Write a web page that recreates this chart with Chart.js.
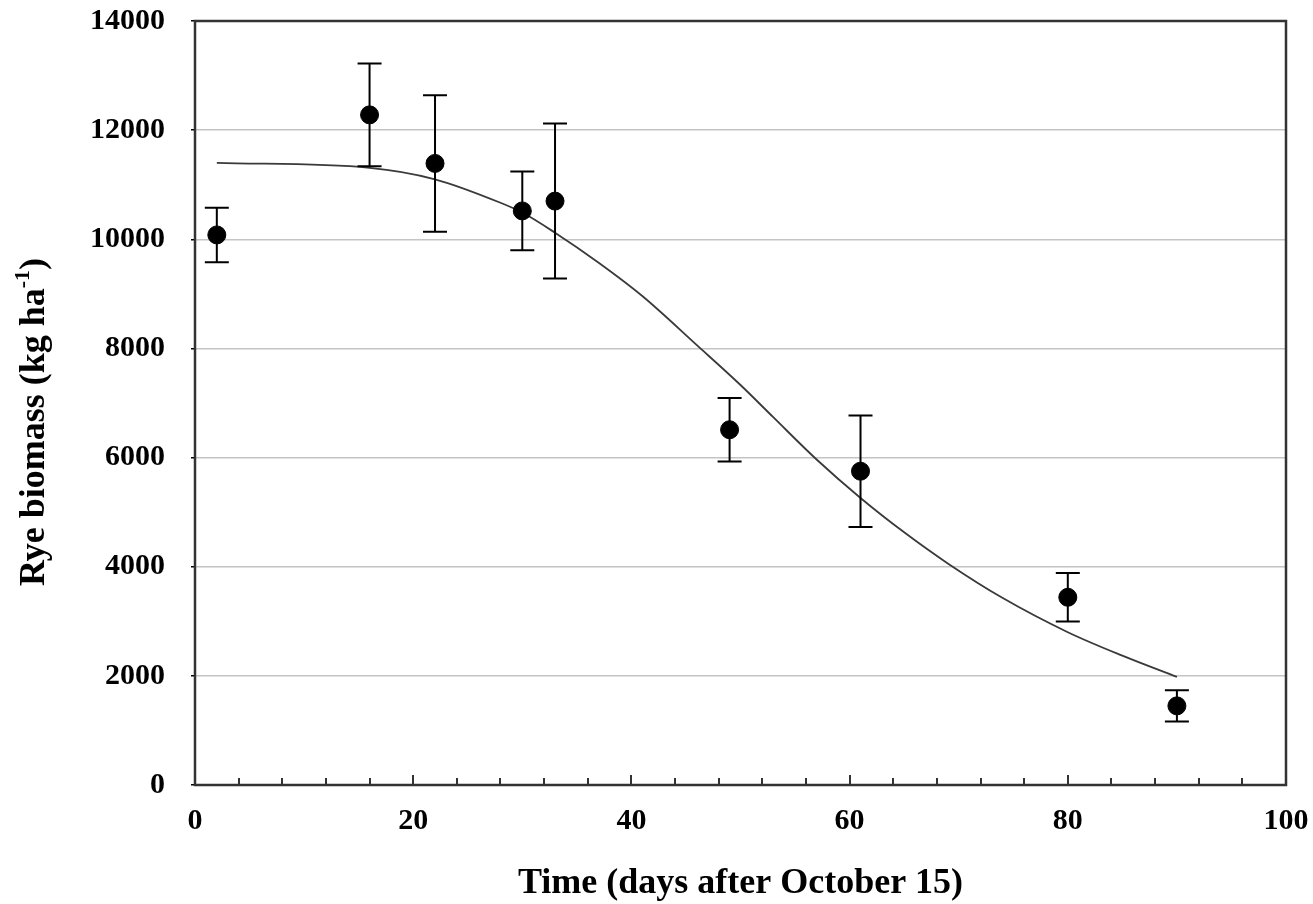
<!DOCTYPE html>
<html>
<head>
<meta charset="utf-8">
<title>Rye biomass over time</title>
<script src="https://cdn.jsdelivr.net/npm/chart.js@4.4.1/dist/chart.umd.min.js"></script>
<style>
    html, body { margin: 0; padding: 0; background: #fff; }
    #wrap { width: 1313px; height: 904px; position: relative; }
</style>
</head>
<body>
<div id="wrap"><canvas id="ryeChart"></canvas></div>
<script>
// observed samples (days after Oct 15), mean biomass and error bar half-width
const days = [2, 16, 22, 30, 33, 49, 61, 80, 90];
const biomass = [10080, 12280, 11390, 10520, 10700, 6510, 5750, 3440, 1450];
const biomassErr = [500, 940, 1250, 720, 1420, 580, 1020, 445, 285];

// fitted curve
const fitDays = [2, 16, 22, 28, 30, 33, 37, 41, 46, 50, 53, 57, 61, 65, 69, 74, 80, 85, 90];
const fitBiomass = [11400, 11310, 11100, 10670, 10490, 10120, 9570, 8960, 8060, 7330, 6740, 5960, 5260, 4630, 4060, 3430, 2800, 2370, 1980];

const xLabels = [0, 20, 40, 60, 80, 100];
const yTicks = [0, 2000, 4000, 6000, 8000, 10000, 12000, 14000];

const SERIF = '"Liberation Serif", "Times New Roman", serif';

/** error bars for the first dataset */
const errorBars = {
    id: 'errorBars',
    afterDatasetsDraw(chart) {
        const { ctx, scales } = chart;
        const meta = chart.getDatasetMeta(0);
        ctx.save();
        ctx.strokeStyle = '#000';
        ctx.lineWidth = 2;
        meta.data.forEach((pt, i) => {
            const x = pt.x;
            const hi = scales.y.getPixelForValue(biomass[i] + biomassErr[i]);
            const lo = scales.y.getPixelForValue(biomass[i] - biomassErr[i]);
            ctx.beginPath();
            ctx.moveTo(x, hi);
            ctx.lineTo(x, lo);
            ctx.moveTo(x - 12, hi);
            ctx.lineTo(x + 12, hi);
            ctx.moveTo(x - 12, lo);
            ctx.lineTo(x + 12, lo);
            ctx.stroke();
        });
        ctx.restore();
    },
};

/** box round the plot, inward x ticks, axis titles */
const frame = {
    id: 'frame',
    afterDraw(chart) {
        const { ctx, chartArea: a, scales } = chart;
        ctx.save();
        ctx.strokeStyle = '#333';
        ctx.lineWidth = 2.5;
        ctx.strokeRect(a.left, a.top, a.right - a.left, a.bottom - a.top);

        ctx.lineWidth = 2;
        ctx.beginPath();
        scales.x.ticks.forEach((t) => {
            if (t.value <= scales.x.min || t.value >= scales.x.max) return;
            const px = Math.round(scales.x.getPixelForValue(t.value));
            const len = t.value % 20 === 0 ? 10 : 7;
            ctx.moveTo(px, a.bottom);
            ctx.lineTo(px, a.bottom - len);
        });
        ctx.stroke();

        ctx.fillStyle = '#000';
        ctx.font = `bold 36px ${SERIF}`;
        ctx.textAlign = 'center';
        ctx.textBaseline = 'middle';
        ctx.fillText('Time (days after October 15)', (a.left + a.right) / 2, 884);

        // y title with superscript
        const main = 'Rye biomass (kg ha';
        const sup = '-1';
        const tail = ')';
        const supFont = `bold 22px ${SERIF}`;
        const mainFont = `bold 36px ${SERIF}`;
        ctx.font = mainFont;
        const wMain = ctx.measureText(main).width;
        const wTail = ctx.measureText(tail).width;
        ctx.font = supFont;
        const wSup = ctx.measureText(sup).width;
        const total = wMain + wSup + wTail;
        ctx.translate(32, 422);
        ctx.rotate(-Math.PI / 2);
        ctx.textAlign = 'left';
        ctx.textBaseline = 'alphabetic';
        let x = -total / 2;
        ctx.font = mainFont;
        ctx.fillText(main, x, 12);
        x += wMain;
        ctx.font = supFont;
        ctx.fillText(sup, x, -3);
        x += wSup;
        ctx.font = mainFont;
        ctx.fillText(tail, x, 12);
        ctx.restore();
    },
};

new Chart(document.getElementById('ryeChart'), {
    data: {
        datasets: [
            {
                type: 'scatter',
                data: days.map((d, i) => ({ x: d, y: biomass[i] })),
                backgroundColor: '#000',
                borderColor: '#000',
                pointRadius: 9,
                pointHoverRadius: 9,
                order: 0,
            },
            {
                type: 'line',
                data: fitDays.map((d, i) => ({ x: d, y: fitBiomass[i] })),
                borderColor: '#3a3a3a',
                borderWidth: 1.8,
                pointRadius: 0,
                fill: false,
                cubicInterpolationMode: 'monotone',
                order: 1,
            },
        ],
    },
    options: {
        responsive: true,
        maintainAspectRatio: false,
        animation: false,
        layout: { padding: { top: 21, right: 27, left: 0, bottom: 0 } },
        plugins: {
            legend: { display: false },
            tooltip: { enabled: false },
        },
        scales: {
            x: {
                type: 'linear',
                min: 0,
                max: 100,
                grid: { display: false },
                border: { display: false },
                ticks: {
                    stepSize: 4,
                    autoSkip: false,
                    maxRotation: 0,
                    padding: 10,
                    color: '#000',
                    font: { family: SERIF, size: 30, weight: 'bold' },
                    callback: (v) => (xLabels.includes(v) ? String(v) : ''),
                },
                afterFit: (s) => {
                    s.height = 119;
                    s.paddingLeft = 0;
                    s.paddingRight = 0;
                },
            },
            y: {
                min: 0,
                max: 14000,
                grid: { color: '#c4c4c4', lineWidth: 1.5, tickColor: '#000', tickLength: 4 },
                border: { display: false },
                ticks: {
                    stepSize: 2000,
                    padding: 26,
                    color: '#000',
                    font: { family: SERIF, size: 30, weight: 'bold' },
                    callback: (v) => (yTicks.includes(v) ? String(v) : ''),
                },
                afterFit: (s) => {
                    s.width = 195;
                    s.paddingTop = 0;
                    s.paddingBottom = 0;
                },
            },
        },
    },
    plugins: [errorBars, frame],
});
</script>
</body>
</html>
